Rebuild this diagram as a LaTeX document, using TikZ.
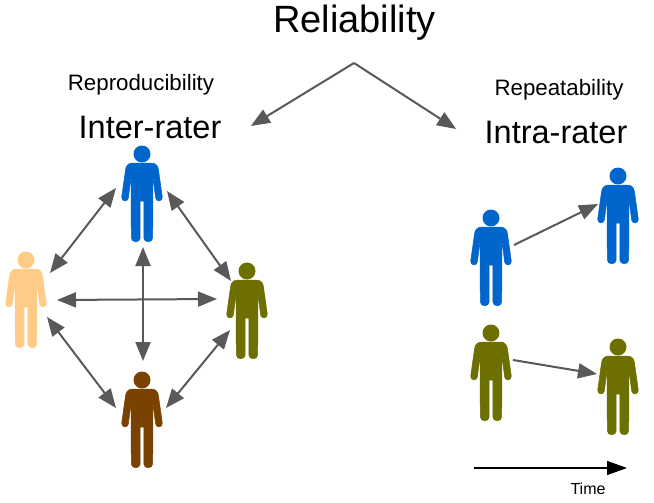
\documentclass[tikz,border=0pt]{standalone}
\usepackage{xcolor}
\usepackage{fontspec}
\setmainfont{Liberation Sans}
\usetikzlibrary{calc}
\usetikzlibrary{positioning}
\usetikzlibrary{arrows.meta}
\definecolor{raterblue}{HTML}{0066CC}
\definecolor{raterpeach}{HTML}{FFCC88}
\definecolor{raterolive}{HTML}{6D7000}
\definecolor{raterbrown}{HTML}{7A4200}
\definecolor{arrowgray}{HTML}{595959}

\newcommand{\person}[3]{%
	\node[actor] (#1) at (#2) {};
	\begin{scope}[shift={(#1.center)}]
		\fill[#3] (0,-40) circle (8.5pt);
		\filldraw[#3, line width=0.5pt] (-9,-31) -- (9,-31) .. controls (14,-31) and (16,-28) .. (16.5,-24) -- (20.3,3)
			.. controls (20.8,7.5) and (14.5,8.5) .. (13.6,4) -- (11,-17) -- (10.7,44)
			.. controls (10.7,49) and (1.8,49) .. (1.8,44) -- (1.8,7) -- (-1.8,7) -- (-1.8,44)
			.. controls (-1.8,49) and (-10.7,49) .. (-10.7,44) -- (-11,-17) -- (-13.6,4)
			.. controls (-14.5,8.5) and (-20.8,7.5) .. (-20.3,3) -- (-16.5,-24)
			.. controls (-16,-28) and (-14,-31) .. (-9,-31) -- cycle;
	\end{scope}
}

\begin{document}
\begin{tikzpicture}[x=1pt,y=-1pt]
		\tikzstyle{actor} = [minimum width=40pt, minimum height=96pt, inner sep=0pt]
		\tikzstyle{message} = [draw=arrowgray, line width=2pt, -{Triangle[length=19pt,width=15pt]}]
		\tikzstyle{both} = [message, {Triangle[length=19pt,width=15pt]}-{Triangle[length=19pt,width=15pt]}]
		\tikzstyle{timeline} = [draw=black, line width=1.5pt, -{Triangle[length=20pt,width=14pt]}]

		\useasboundingbox (0,0) rectangle (654,503);

		\node[font=\fontsize{38}{40}\selectfont] (Reliability) at (354.5,23) {Reliability};
		\node[font=\fontsize{32.5}{34}\selectfont] (InterRater) at (150,127) {Inter-rater};
		\node[font=\fontsize{22.3}{24}\selectfont, above=13pt of InterRater, xshift=-9pt] (Reproducibility) {Reproducibility};
		\node[font=\fontsize{32.5}{34}\selectfont] (IntraRater) at (556,132) {Intra-rater};
		\node[font=\fontsize{22.3}{24}\selectfont, above=13pt of IntraRater, xshift=3pt] (Repeatability) {Repeatability};

		\person{Blue}{142,194}{raterblue}
		\person{Peach}{26,300}{raterpeach}
		\person{Olive}{247,311}{raterolive}
		\person{Brown}{142,420}{raterbrown}
		\person{BlueBefore}{491,258}{raterblue}
		\person{BlueAfter}{618,216}{raterblue}
		\person{OliveBefore}{491,373}{raterolive}
		\person{OliveAfter}{618,387}{raterolive}

		\coordinate (Apex) at (354,63);
		\coordinate (TimeStart) at (474,468);
		\coordinate (TimeEnd) at (627,468);
		\node[font=\fontsize{16}{18}\selectfont] (Time) at (588,489) {Time};

		\draw[message] (Apex) -- ($(InterRater.east)+(26,-1)$);
		\draw[message] (Apex) -- ($(IntraRater.west)+(-25,-3)$);

		\draw[both] ($(Blue)+(-26,-6)$) -- ($(Peach)+(24,-27)$);
		\draw[both] ($(Blue)+(25,-3)$) -- ($(Olive)+(-16,-30)$);
		\draw[both] ($(Peach)+(31,0)$) -- ($(Olive)+(-30,-12)$);
		\draw[both] ($(Blue)+(1,53)$) -- ($(Brown)+(1,-59)$);
		\draw[both] ($(Peach)+(21,17)$) -- ($(Brown)+(-26,-12)$);
		\draw[both] ($(Olive)+(-17,19)$) -- ($(Brown)+(24,-12)$);

		\draw[message] ($(BlueBefore)+(23,-13)$) -- ($(BlueAfter)+(-20,-12)$);
		\draw[message] ($(OliveBefore)+(22,-13)$) -- ($(OliveAfter)+(-21,-13)$);

		\draw[timeline] (TimeStart) -- (TimeEnd);

	\end{tikzpicture}
\end{document}
